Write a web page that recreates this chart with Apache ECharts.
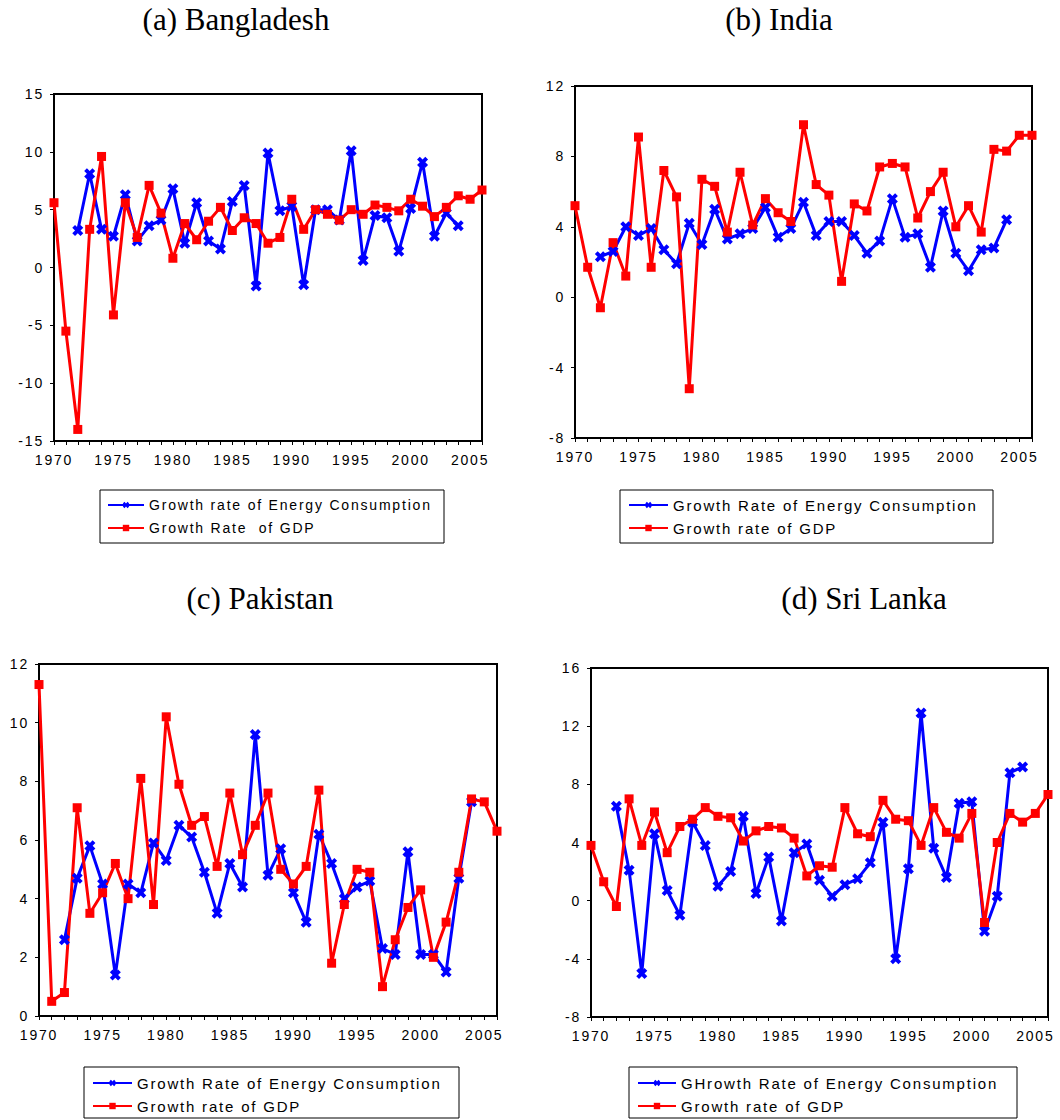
<!DOCTYPE html>
<html>
<head>
<meta charset="utf-8">
<title>Growth of energy consumption and GDP</title>
<script src="https://cdn.jsdelivr.net/npm/echarts@6/dist/echarts.min.js"></script>
<style>
  html, body { margin: 0; padding: 0; background: #fff; }
  #chart { width: 1060px; height: 1120px; }
  /* EViews output uses spaced lettering on axes and legends (svg renderer only) */
  #chart text { letter-spacing: 1.8px; white-space: pre; }
  #chart text[style*="Liberation Serif"] { letter-spacing: 0; }
</style>
</head>
<body>
<div id="chart"></div>
<script>
const years = [1970, 1971, 1972, 1973, 1974, 1975, 1976, 1977, 1978, 1979,
  1980, 1981, 1982, 1983, 1984, 1985, 1986, 1987, 1988, 1989,
  1990, 1991, 1992, 1993, 1994, 1995, 1996, 1997, 1998, 1999,
  2000, 2001, 2002, 2003, 2004, 2005, 2006]

// (a) Bangladesh
const bdEnergy = [null, null, 3.2, 8.1, 3.3, 2.7, 6.3, 2.3, 3.6, 4.1,
  6.8, 2.1, 5.6, 2.3, 1.6, 5.7, 7.1, -1.6, 9.9, 4.9,
  5.3, -1.5, 5.0, 5.0, 4.1, 10.1, 0.6, 4.5, 4.3, 1.4,
  5.1, 9.1, 2.7, 4.7, 3.6, null, null]
const bdGdp = [5.6, -5.5, -14.0, 3.3, 9.6, -4.1, 5.6, 2.6, 7.1, 4.7,
  0.8, 3.8, 2.4, 4.0, 5.2, 3.2, 4.3, 3.8, 2.1, 2.6,
  5.9, 3.3, 5.0, 4.6, 4.1, 5.0, 4.6, 5.4, 5.2, 4.9,
  5.9, 5.3, 4.4, 5.2, 6.2, 5.9, 6.7]

// (b) India
const inEnergy = [null, null, 2.3, 2.6, 4.0, 3.5, 3.9, 2.7, 1.9, 4.2,
  3.0, 5.0, 3.3, 3.6, 3.9, 5.1, 3.4, 3.9, 5.4, 3.5,
  4.3, 4.3, 3.5, 2.5, 3.2, 5.6, 3.4, 3.6, 1.7, 4.9,
  2.5, 1.5, 2.7, 2.8, 4.4, null, null]
const inGdp = [5.2, 1.7, -0.6, 3.1, 1.2, 9.1, 1.7, 7.2, 5.7, -5.2,
  6.7, 6.3, 3.7, 7.1, 4.1, 5.6, 4.8, 4.3, 9.8, 6.4,
  5.8, 0.9, 5.3, 4.9, 7.4, 7.6, 7.4, 4.5, 6.0, 7.1,
  4.0, 5.2, 3.7, 8.4, 8.3, 9.2, 9.2]

// (c) Pakistan
const pkEnergy = [null, null, 2.6, 4.7, 5.8, 4.5, 1.4, 4.5, 4.2, 5.9,
  5.3, 6.5, 6.1, 4.9, 3.5, 5.2, 4.4, 9.6, 4.8, 5.7,
  4.2, 3.2, 6.2, 5.2, 4.0, 4.4, 4.6, 2.3, 2.1, 5.6,
  2.1, 2.1, 1.5, 4.7, 7.3, null, null]
const pkGdp = [11.3, 0.5, 0.8, 7.1, 3.5, 4.2, 5.2, 4.0, 8.1, 3.8,
  10.2, 7.9, 6.5, 6.8, 5.1, 7.6, 5.5, 6.5, 7.6, 5.0,
  4.5, 5.1, 7.7, 1.8, 3.8, 5.0, 4.9, 1.0, 2.6, 3.7,
  4.3, 2.0, 3.2, 4.9, 7.4, 7.3, 6.3]

// (d) Sri Lanka
const lkEnergy = [null, null, 6.5, 2.1, -5.0, 4.6, 0.7, -1.0, 5.4, 3.8,
  1.0, 2.0, 5.8, 0.5, 3.0, -1.4, 3.3, 3.9, 1.4, 0.3,
  1.1, 1.5, 2.6, 5.4, -4.0, 2.2, 12.9, 3.6, 1.6, 6.7,
  6.8, -2.1, 0.3, 8.8, 9.2, null, null]
const lkGdp = [3.8, 1.3, -0.4, 7.0, 3.8, 6.1, 3.3, 5.1, 5.6, 6.4,
  5.8, 5.7, 4.1, 4.8, 5.1, 5.0, 4.3, 1.7, 2.4, 2.3,
  6.4, 4.6, 4.4, 6.9, 5.6, 5.5, 3.8, 6.4, 4.7, 4.3,
  6.0, -1.5, 4.0, 6.0, 5.4, 6.0, 7.3]

const BLUE = '#0000ff'
const RED = '#ff0000'
const AXIS_FONT = "'Liberation Sans', Arial, sans-serif"
// filled "x" marker like the EViews cross
const CROSS = 'path://M0,2.5 L2.5,0 L5,2.5 L7.5,0 L10,2.5 L7.5,5 L10,7.5 L7.5,10 L5,7.5 L2.5,10 L0,7.5 L2.5,5 Z'

const panels = [
  {
    title: '(a) Bangladesh', tx: 236, ty: 19,
    grid: { left: 54, top: 94, width: 428, height: 347 },
    yMin: -15, yMax: 15, yStep: 5,
    energy: bdEnergy, gdp: bdGdp,
    energyName: 'Growth rate of Energy Consumption', gdpName: 'Growth Rate  of GDP',
    legend: { left: 100, top: 490, pad: [7, 5, 7, 7], iw: 36, tw: 290, fs: 14 },
  },
  {
    title: '(b) India', tx: 779, ty: 19,
    grid: { left: 575, top: 86, width: 457, height: 352 },
    yMin: -8, yMax: 12, yStep: 4,
    energy: inEnergy, gdp: inGdp,
    energyName: 'Growth Rate of Energy Consumption', gdpName: 'Growth rate of GDP',
    legend: { left: 620, top: 490, pad: [7, 5, 7, 8], iw: 39, tw: 315, fs: 15 },
  },
  {
    title: '(c) Pakistan', tx: 260, ty: 598,
    grid: { left: 39, top: 664, width: 458, height: 352 },
    yMin: 0, yMax: 12, yStep: 2,
    energy: pkEnergy, gdp: pkGdp,
    energyName: 'Growth Rate of Energy Consumption', gdpName: 'Growth rate of GDP',
    legend: { left: 84, top: 1067, pad: [8, 5, 4, 8], iw: 39, tw: 317, fs: 15 },
  },
  {
    title: '(d) Sri Lanka', tx: 864, ty: 598,
    grid: { left: 591, top: 668, width: 457, height: 349 },
    yMin: -8, yMax: 16, yStep: 4,
    energy: lkEnergy, gdp: lkGdp,
    energyName: 'GHrowth Rate of Energy Consumption', gdpName: 'Growth rate of GDP',
    legend: { left: 629, top: 1067, pad: [8, 5, 4, 8], iw: 38, tw: 331, fs: 15 },
  },
]

function pairs(vals) {
  return years.map((y, i) => [y, vals[i]]).filter(d => d[1] != null)
}

const axisText = { color: '#000', fontFamily: AXIS_FONT, fontSize: 14 }
const blackLine = { show: true, onZero: false, lineStyle: { color: '#000', width: 2 } }

const option = {
  animation: false,
  backgroundColor: '#fff',
  graphic: panels.map(p => ({
    type: 'text', x: p.tx, y: p.ty,
    style: { text: p.title, font: "31px 'Liberation Serif'", fill: '#000', textAlign: 'center', textVerticalAlign: 'middle' },
  })),
  grid: panels.map(p => ({ ...p.grid, show: true, borderColor: '#000', borderWidth: 2, backgroundColor: '#fff' })),
  xAxis: panels.map((p, i) => ({
    type: 'value', gridIndex: i, min: 1970, max: 2006, interval: 1,
    axisLine: blackLine,
    axisTick: { show: true, length: 4, lineStyle: { color: '#000', width: 1 } },
    axisLabel: { ...axisText, margin: 12, formatter: v => (v % 5 === 0 ? String(v) : '') },
    splitLine: { show: false },
  })),
  yAxis: panels.map((p, i) => ({
    type: 'value', gridIndex: i, min: p.yMin, max: p.yMax, interval: p.yStep,
    axisLine: blackLine,
    axisTick: { show: true, length: 4, lineStyle: { color: '#000', width: 1 } },
    axisLabel: { ...axisText, margin: 10 },
    splitLine: { show: false },
  })),
  legend: panels.map(p => ({
    orient: 'vertical', left: p.legend.left, top: p.legend.top,
    padding: p.legend.pad, itemGap: 7, itemWidth: p.legend.iw, itemHeight: 8,
    borderColor: '#000', borderWidth: 1, backgroundColor: '#fff',
    selectedMode: false,
    textStyle: { color: '#000', fontFamily: AXIS_FONT, fontSize: p.legend.fs, lineHeight: 16, width: p.legend.tw },
    data: [p.energyName, p.gdpName],
  })),
  series: panels.flatMap((p, i) => [
    {
      type: 'line', name: p.energyName, xAxisIndex: i, yAxisIndex: i,
      data: pairs(p.energy),
      symbol: CROSS, symbolSize: 11,
      lineStyle: { color: BLUE, width: 3 }, itemStyle: { color: BLUE },
    },
    {
      type: 'line', name: p.gdpName, xAxisIndex: i, yAxisIndex: i,
      data: pairs(p.gdp),
      symbol: 'rect', symbolSize: 9,
      lineStyle: { color: RED, width: 3 }, itemStyle: { color: RED },
    },
  ]),
}

const chart = echarts.init(document.getElementById('chart'), null, { renderer: 'svg' })
chart.setOption(option)
</script>
</body>
</html>
